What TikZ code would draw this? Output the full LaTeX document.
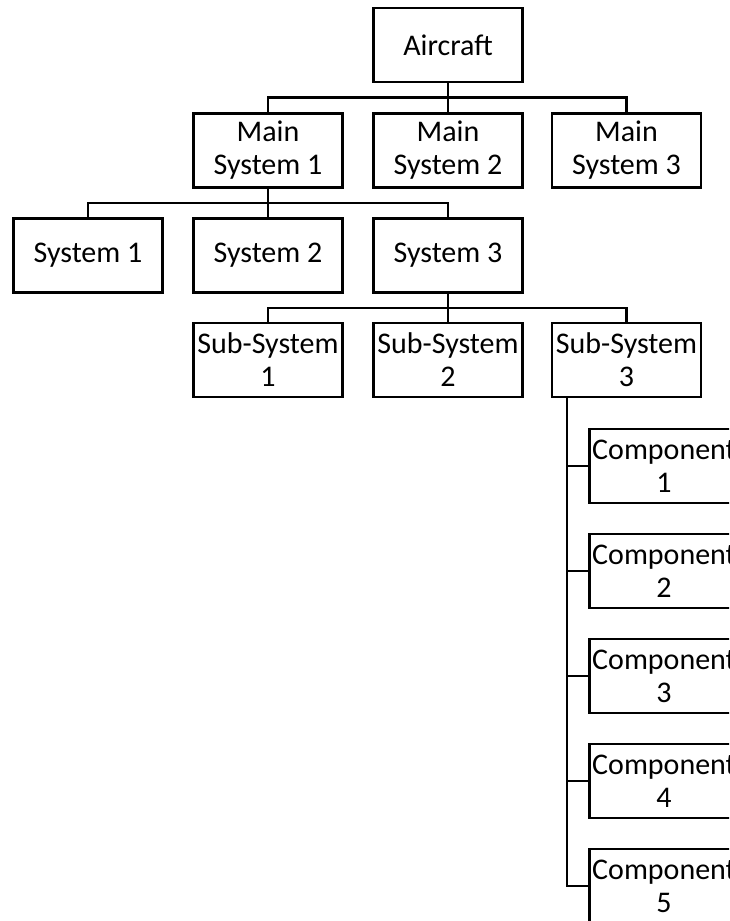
\documentclass[tikz,border=0pt]{standalone}
\usepackage{fontspec}
\setmainfont{Carlito}
\begin{document}
\begin{tikzpicture}[x=1pt,y=-1pt,
  box/.style={draw, line width=2.6pt, minimum width=149pt, minimum height=74pt,
    inner sep=0pt, align=center, font=\fontsize{30}{33}\selectfont},
  link/.style={line width=2.6pt}]
\clip (0,0) rectangle (729,921);
\fill[white] (0,0) rectangle (729,921);

% level 0
\node[box] (air) at (448,45) {Aircraft};
% level 1
\node[box] (ms1) at (268,150.5) {Main\\System 1};
\node[box] (ms2) at (448,150.5) {Main\\System 2};
\node[box] (ms3) at (626.5,150.5) {Main\\System 3};
% level 2
\node[box] (s1) at (88,255.5) {System 1};
\node[box] (s2) at (268,255.5) {System 2};
\node[box] (s3) at (448,255.5) {System 3};
% level 3
\node[box] (ss1) at (268,360) {Sub-System\\1};
\node[box] (ss2) at (448,360) {Sub-System\\2};
\node[box] (ss3) at (626.5,360) {Sub-System\\3};
% components
\node[box] (c1) at (664,466) {Component\\1};
\node[box] (c2) at (664,571) {Component\\2};
\node[box] (c3) at (664,676) {Component\\3};
\node[box] (c4) at (664,781) {Component\\4};
\node[box] (c5) at (664,886) {Component\\5};

% bus lines
\coordinate (b1) at (448,97.5);
\draw[link] (air.south) -- (b1);
\draw[link] (ms1.north) |- (b1) -| (ms3.north);
\draw[link] (b1) -- (ms2.north);

\coordinate (b2) at (268,203);
\draw[link] (ms1.south) -- (b2);
\draw[link] (s1.north) |- (b2) -| (s3.north);
\draw[link] (b2) -- (s2.north);

\coordinate (b3) at (448,308);
\draw[link] (s3.south) -- (b3);
\draw[link] (ss1.north) |- (b3) -| (ss3.north);
\draw[link] (b3) -- (ss2.north);

\coordinate (vtop) at (567,397);
\draw[link] (vtop) |- (c5.west);
\foreach \c in {c1,c2,c3,c4}
  \draw[link] (\c.west) -- (\c.west -| vtop);
\end{tikzpicture}
\end{document}
